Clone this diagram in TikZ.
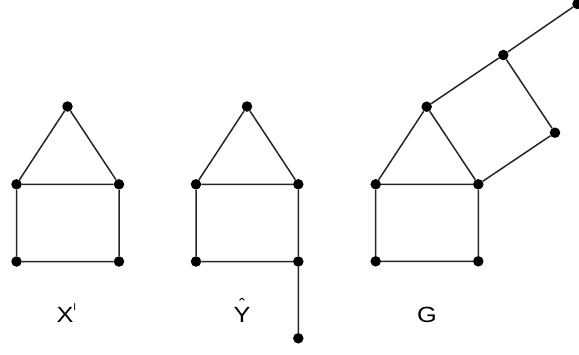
\documentclass[tikz,border=0pt]{standalone}
\usepackage{fontspec}
\setmainfont{Liberation Sans}
\begin{document}
\begin{tikzpicture}[x=1pt,y=-1pt,
  vtx/.style={circle,fill=black,inner sep=0pt,minimum size=10.5pt},
  edge/.style={line width=1.5pt,draw=black!85},
  lbl/.style={inner sep=0pt,font=\fontsize{22}{22}\selectfont}]
\useasboundingbox (0,0) rectangle (579,354);
% graph X'
\node[vtx] (a1) at (67.5,106.5) {};
\node[vtx] (a2) at (16.5,184.3) {};
\node[vtx] (a3) at (119,184.3) {};
\node[vtx] (a4) at (16.5,261.5) {};
\node[vtx] (a5) at (119,261.5) {};
\draw[edge] (a1)--(a2) (a1)--(a3) (a2)--(a3) (a2)--(a4) (a3)--(a5) (a4)--(a5);
% graph Y hat
\node[vtx] (b1) at (247,106.5) {};
\node[vtx] (b2) at (196,184.3) {};
\node[vtx] (b3) at (298.3,184.3) {};
\node[vtx] (b4) at (196,261.5) {};
\node[vtx] (b5) at (298.3,261.5) {};
\node[vtx] (b6) at (298.3,338.3) {};
\draw[edge] (b1)--(b2) (b1)--(b3) (b2)--(b3) (b2)--(b4) (b3)--(b5) (b4)--(b5) (b5)--(b6);
% graph G
\node[vtx] (c1) at (426.7,106.7) {};
\node[vtx] (c2) at (375.7,184.3) {};
\node[vtx] (c3) at (478.3,184.3) {};
\node[vtx] (c4) at (375.7,261.3) {};
\node[vtx] (c5) at (478.3,261.3) {};
\node[vtx] (c6) at (503.3,55) {};
\node[vtx] (c7) at (555,132.7) {};
\node[vtx] (c8) at (577.5,4) {};
\draw[edge] (c1)--(c2) (c1)--(c3) (c2)--(c3) (c2)--(c4) (c3)--(c5) (c4)--(c5)
  (c1)--(c6) (c6)--(c7) (c7)--(c3) (c6)--(c8);
% labels
\node[lbl,anchor=base west] (lx) at (56.3,322.3) {\scalebox{1.15}[1]{X}\raisebox{12pt}{\fontsize{10}{10}\selectfont I}};
\node[lbl,anchor=base] (ly) at (242,322.3) {\ooalign{\scalebox{1.15}[1]{Y}\cr\hidewidth\raisebox{11.3pt}{\fontsize{18}{18}\selectfont ˆ}\hidewidth\cr}};
\node[lbl,anchor=base] (lg) at (427,322.3) {\scalebox{1.15}[1]{G}};
\end{tikzpicture}
\end{document}
